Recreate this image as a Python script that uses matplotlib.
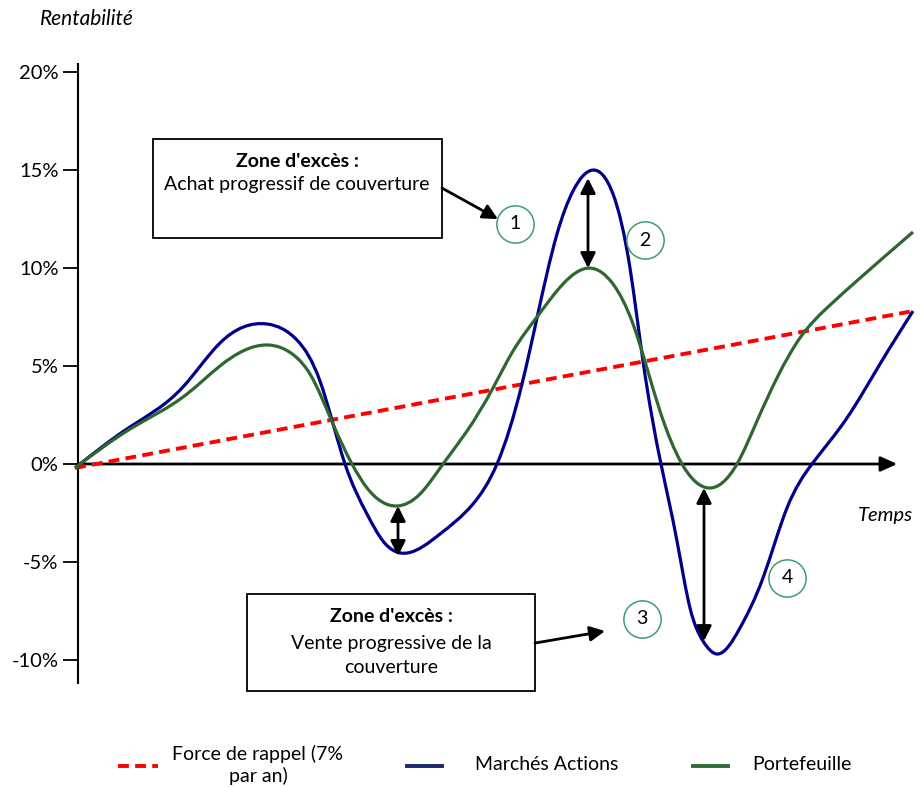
import numpy as np
import matplotlib
matplotlib.use("Agg")
import matplotlib.pyplot as plt
from matplotlib.path import Path
from matplotlib.patches import PathPatch, Rectangle
from matplotlib.lines import Line2D

plt.rcParams['font.family'] = ['Lato', 'DejaVu Sans']

# Time axis (arbitrary units) and returns in %
market_t = [-0.3, 5.2, 10.5, 14.2, 18.9, 21.9, 24.2, 26.7, 28.9, 30.5,
            32.9, 36.2, 39.5, 41.9, 44.4, 45.9, 47.9, 49.5, 51.5, 53.5,
            55.2, 56.5, 58.3, 59.9, 61.2, 62.5, 63.9, 66.2, 68.5, 70.9,
            73.4, 76.9, 80.2, 83.5]
market_v = [-0.20, 1.89, 3.93, 6.17, 7.14, 6.32, 4.23, 0.0, -2.55, -3.93,
            -4.54, -3.57, -2.04, 0.0, 4.08, 7.45, 11.73, 13.92, 14.99, 13.77,
            9.99, 5.25, 0.0, -3.93, -7.34, -9.03, -9.69, -8.36, -5.81, -2.24,
            0.0, 2.35, 5.10, 7.80]

portfolio_t = [-0.3, 5.2, 10.9, 14.2, 18.9, 21.9, 23.2, 25.5, 27.4, 28.9,
               31.9, 34.2, 36.5, 38.9, 41.5, 43.5, 45.9, 48.5, 51.2, 53.5,
               55.5, 58.2, 60.4, 63.0, 65.9, 67.9, 69.9, 72.2, 74.9, 78.2,
               83.5]
portfolio_v = [-0.20, 1.78, 3.57, 5.00, 6.07, 5.41, 4.59, 2.04, 0.0, -1.22,
               -2.14, -1.53, 0.0, 1.68, 3.88, 5.76, 7.50, 9.18, 9.99, 9.18,
               7.14, 2.70, 0.0, -1.22, 0.0, 2.19, 4.39, 6.43, 7.96, 9.48,
               11.83]

recall_t = [-0.3, 83.5]
recall_v = [-0.20, 7.80]

y_ticks = [-10, -5, 0, 5, 10, 15, 20]

# numbered markers and gap arrows
marker_labels = ['1', '2', '3', '4']
marker_t = [43.7, 56.7, 56.4, 70.9]
marker_v = [12.24, 11.42, -7.90, -5.81]

gap_t = [32.0, 51.0, 62.6]
gap_top = [-2.14, 14.58, -1.22]
gap_bottom = [-4.69, 9.99, -9.03]

BLUE = '#00008b'
GREEN = '#2e6830'
RED = '#ff0000'
CIRCLE = '#3a9e6e'


def smooth_path(xs, ys):
    """Natural cubic spline through the points, as cubic Bezier segments."""
    x = np.asarray(xs, float)
    y = np.asarray(ys, float)
    n = len(x)
    h = np.diff(x)
    # second derivatives (natural end conditions)
    A = np.zeros((n, n))
    b = np.zeros(n)
    A[0, 0] = A[-1, -1] = 1.0
    for i in range(1, n - 1):
        A[i, i - 1] = h[i - 1]
        A[i, i] = 2 * (h[i - 1] + h[i])
        A[i, i + 1] = h[i]
        b[i] = 6 * ((y[i + 1] - y[i]) / h[i] - (y[i] - y[i - 1]) / h[i - 1])
    M = np.linalg.solve(A, b)
    slope = np.empty(n)
    slope[:-1] = (y[1:] - y[:-1]) / h - h * (2 * M[:-1] + M[1:]) / 6
    slope[-1] = (y[-1] - y[-2]) / h[-1] + h[-1] * (M[-2] + 2 * M[-1]) / 6

    verts = [(x[0], y[0])]
    codes = [Path.MOVETO]
    for i in range(n - 1):
        d = h[i] / 3
        verts += [(x[i] + d, y[i] + d * slope[i]),
                  (x[i + 1] - d, y[i + 1] - d * slope[i + 1]),
                  (x[i + 1], y[i + 1])]
        codes += [Path.CURVE4] * 3
    return Path(verts, codes)


W, H = 924, 787
fig = plt.figure(figsize=(W / 100, H / 100), dpi=100)
ax = fig.add_axes([60 / W, 1 - 700 / H, 860 / W, 645 / H])
ax.set_xlim(-1.8, 84.2)
ax.set_ylim((464 - 700) / 19.61, (464 - 55) / 19.61)

for s in ['top', 'right', 'bottom']:
    ax.spines[s].set_visible(False)
ax.spines['left'].set_position(('data', 0))
ax.spines['left'].set_bounds(-11.17, 20.40)
ax.spines['left'].set_linewidth(1.5)
ax.set_xticks([])
ax.set_yticks(y_ticks)
ax.set_yticklabels([f'{v}%' for v in y_ticks])
ax.tick_params(axis='y', direction='out', length=11, width=1.3, pad=3,
               labelsize=14.5)

# x axis with arrow
ax.annotate('', xy=(82.2, 0), xytext=(0, 0),
            arrowprops=dict(arrowstyle='-|>,head_length=1.0,head_width=0.45',
                            color='black', lw=2))

# series
ax.plot(recall_t, recall_v, color=RED, lw=2.8, linestyle=(0, (2.8, 1.6)),
        zorder=3)
ax.add_patch(PathPatch(smooth_path(market_t, market_v), fill=False,
                       edgecolor=BLUE, lw=2.3, zorder=4))
ax.add_patch(PathPatch(smooth_path(portfolio_t, portfolio_v), fill=False,
                       edgecolor=GREEN, lw=2.3, zorder=5))

# gap arrows between market and portfolio
for t, top, bot in zip(gap_t, gap_top, gap_bottom):
    ax.annotate('', xy=(t, top), xytext=(t, bot),
                arrowprops=dict(arrowstyle='<|-|>,head_length=0.9,head_width=0.45',
                                color='black', lw=2, shrinkA=0, shrinkB=0),
                zorder=6)

# numbered circles
ax.scatter(marker_t, marker_v, s=720, facecolor='white', edgecolor=CIRCLE,
           linewidth=1.1, zorder=7)
for lab, t, v in zip(marker_labels, marker_t, marker_v):
    ax.text(t, v, lab, ha='center', va='center', fontsize=14, zorder=8)

# text boxes
ax.add_patch(Rectangle((7.5, 11.52), 28.9, 5.05, fill=False, edgecolor='black',
                       lw=1.3, zorder=6))
ax.text(21.9, 15.45, "Zone d'excès :", ha='center', va='center',
        fontsize=14, fontweight='bold')
ax.text(21.9, 14.23, 'Achat progressif de couverture', ha='center',
        va='center', fontsize=14)
ax.annotate('', xy=(42.0, 12.49), xytext=(36.4, 14.07),
            arrowprops=dict(arrowstyle='-|>,head_length=0.9,head_width=0.45',
                            color='black', lw=2, shrinkA=0, shrinkB=0))

ax.add_patch(Rectangle((16.9, -11.58), 28.8, 4.95, fill=False,
                       edgecolor='black', lw=1.3, zorder=6))
ax.text(31.3, -7.80, "Zone d'excès :", ha='center', va='center',
        fontsize=14, fontweight='bold')
ax.text(31.3, -9.13, 'Vente progressive de la', ha='center', va='center',
        fontsize=14)
ax.text(31.3, -10.40, 'couverture', ha='center', va='center', fontsize=14)
ax.annotate('', xy=(52.7, -8.52), xytext=(45.7, -9.13),
            arrowprops=dict(arrowstyle='-|>,head_length=0.9,head_width=0.45',
                            color='black', lw=2, shrinkA=0, shrinkB=0))

# axis titles
fig.text(87 / W, 1 - 19 / H, 'Rentabilité', ha='center', va='center',
         fontsize=15, style='italic')
fig.text(885 / W, 1 - 515 / H, 'Temps', ha='center', va='center',
         fontsize=14.5, style='italic')

# legend
legend_items = [
    (118, 158, RED, (0, (2.8, 1.6)), 'Force de rappel (7%\npar an)', 258, 'center'),
    (407, 442, '#1a2a6c', '-', 'Marchés Actions', 475, 'left'),
    (693, 728, '#2e6b34', '-', 'Portefeuille', 752, 'left'),
]
for x0, x1, col, ls, lab, tx, ha in legend_items:
    fig.add_artist(Line2D([x0 / W, x1 / W], [1 - 766 / H, 1 - 766 / H],
                          color=col, lw=2.8, linestyle=ls))
    fig.text(tx / W, 1 - 765 / H, lab, ha=ha, va='center', fontsize=14,
             multialignment='center', linespacing=1.25)

fig.savefig('out.png', dpi=100)
